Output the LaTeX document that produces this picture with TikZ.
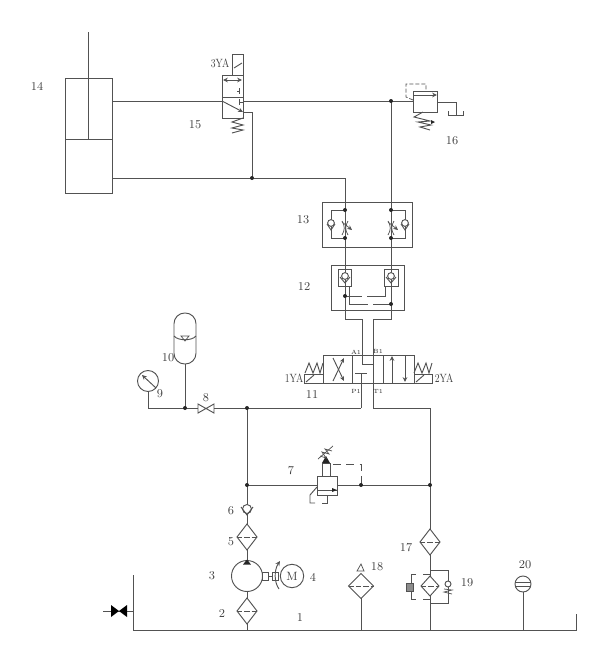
\documentclass[tikz,border=0pt]{standalone}
\usepackage{tikz}
\usetikzlibrary{arrows.meta}
\newcommand{\yalabel}[1]{\scalebox{0.78}[1]{#1}}
\tikzset{
  pipe/.style={line width=0.7pt,draw=black!68},
  thin pipe/.style={line width=0.55pt,draw=black!68},
  pilot/.style={pipe,dash pattern=on 6pt off 4pt},
  lbl/.style={inner sep=0pt,font=\fontsize{9}{9}\selectfont,text=black!75},
  tiny lbl/.style={inner sep=0pt,font=\fontsize{4.5}{5}\selectfont,text=black!85},
  dot/.style={fill=black!85},
  tip/.style={-{Stealth[length=3.6pt,width=3.4pt]}}
}
\begin{document}
\begin{tikzpicture}[x=0.75pt,y=-0.75pt]
  \useasboundingbox (0,0) rectangle (601,651);
  % cylinder 14
  \draw[pipe] (65,78) rectangle (112,193);
  \draw[pipe] (65,139) -- (112,139);
  \draw[pipe] (88,32) -- (88,139);
  \draw[pipe] (112,101) -- (222,101);
  \draw[pipe] (243,101) -- (413,101);
  \draw[pipe] (112,178) -- (345,178) -- (345,319) -- (362,319) -- (362,364) -- (373,364) -- (373,319) -- (391,319) -- (391,101);
  % valve 15
  \draw[pipe] (222,75) rectangle (243,118);
  \draw[pipe] (222,97) -- (243,97);
  \draw[pipe] (232,54) rectangle (243,75);
  \draw[pipe] (234,68) -- (242,63);
  \draw[thin pipe,{Stealth[length=3.6pt,width=3.4pt]}-{Stealth[length=3.6pt,width=3.4pt]}] (223,80) -- (242,80);
  \draw[pipe] (237,91) -- (240,91) (239,88) -- (239,94);
  \draw[pipe] (239,102) -- (243,102) (239,99) -- (239,105);
  \draw[pipe,tip] (222,101) -- (243,112);
  \draw[pipe] (243,112) -- (252,112) -- (252,178);
  \draw[pipe] (243,118) -- (232,122) -- (243,125) -- (232,128) -- (243,130) -- (232,133);
  % valve 16
  \draw[pipe] (413,91) rectangle (437,112);
  \draw[pipe,tip] (413,95) -- (437,95);
  \draw[pipe] (437,102) -- (456,102) -- (456,115);
  \draw[pipe] (448,111) -- (448,115) -- (463,115) -- (463,111);
  \draw[pipe] (423,112) -- (414,117) -- (430,121) -- (418,122) -- (431,125) -- (420,127) -- (430,130);
  \fill[dot] (431,120) -- (435,122) -- (431,124) -- cycle;
  \draw[thin pipe,dash pattern=on 3pt off 1.5pt] (413,100) -- (406,97) -- (406,84) -- (426,84) -- (426,91);
  % block 13
  \draw[pipe] (322,202) rectangle (412,247);
  \draw[pipe] (345,210) -- (331,210) -- (331,238) -- (345,238);
  \draw[pipe] (391,210) -- (405,210) -- (405,238) -- (391,238);
  \foreach \x in {331,405} {
    \draw[pipe,fill=white] (\x,223) circle [radius=3.4];
    \draw[pipe] (\x-4,224) -- (\x,230) -- (\x+4,224);
  }
  \foreach \x in {345,391} {
    \draw[thin pipe] (\x-3,221) .. controls (\x,226) and (\x,230) .. (\x-3,235);
    \draw[thin pipe] (\x+3,221) .. controls (\x,226) and (\x,230) .. (\x+3,235);
    \draw[thin pipe,tip] (\x-3,222) -- (\x+7,230);
  }
  % block 12
  \draw[pipe] (331,265) rectangle (404,310);
  \draw[pipe] (338,269) rectangle (351,286);
  \draw[pipe] (384,269) rectangle (398,286);
  \foreach \x in {345,391} {
    \draw[pipe,fill=white] (\x,276) circle [radius=3.4];
    \draw[pipe] (\x-5,277) -- (\x,283) -- (\x+5,277);
  }
  \draw[pipe] (345,296) -- (362,296) (367,296) -- (385,296) -- (385,286);
  \draw[pipe] (349,286) -- (349,304) -- (368,304) (373,304) -- (391,304);
  % main valve 11
  \draw[pipe] (323,355) rectangle (414,383);
  \draw[pipe] (352,355) -- (352,383);
  \draw[pipe] (383,355) -- (383,383);
  \draw[pipe,tip] (333,381) -- (344,358);
  \draw[pipe,tip] (333,358) -- (344,381);
  \draw[pipe,tip] (392,383) -- (392,356);
  \draw[pipe,tip] (405,355) -- (405,382);
  \draw[pipe] (355,373) -- (367,373);
  \draw[pipe] (361,373) -- (361,408);
  \draw[pipe] (373,383) -- (373,364);
  \draw[pipe] (373,383) -- (373,408) -- (430,408) -- (430,529);
  \draw[pipe] (304,374) rectangle (323,383);
  \draw[pipe] (306,382) -- (314,375);
  \draw[pipe] (305,373) -- (309,363) -- (313,373) -- (317,363) -- (320,373) -- (323,363);
  \draw[pipe] (414,374) rectangle (432,383);
  \draw[pipe] (416,382) -- (424,375);
  \draw[pipe] (414,373) -- (418,363) -- (422,373) -- (426,363) -- (429,373) -- (432,363);
  % gauge, accumulator, valve 8
  \draw[pipe] (148,381) circle [radius=10.5];
  \draw[pipe,tip] (156,388) -- (142,375);
  \draw[pipe] (148,391) -- (148,408) -- (198,408);
  \draw[pipe,rounded corners=8pt] (174,313) rectangle (196,364);
  \draw[pipe] (174,336) .. controls (178,341) and (192,341) .. (196,336);
  \draw[thin pipe] (181,336) -- (189,336) -- (185,341) -- cycle;
  \draw[pipe] (185,364) -- (185,408);
  \draw[pipe] (198,404) -- (214,413) -- (214,404) -- (198,413) -- cycle;
  \draw[pipe] (214,408) -- (361,408);
  % valve 7
  \draw[pipe] (247,408) -- (247,505);
  \draw[pipe] (247,485) -- (317,485);
  \draw[pipe] (317,476) rectangle (337,495);
  \draw[pipe] (317,490) -- (337,490);
  \fill[dot] (332,488) -- (337,490) -- (332,492) -- cycle;
  \draw[pipe] (322,463) rectangle (330,476);
  \fill[dot] (322,463) -- (330,463) -- (326,456) -- cycle;
  \draw[thin pipe] (318,459) -- (333,446);
  \draw[thin pipe] (320,456) -- (326,458) -- (322,452) -- (329,454) -- (325,449) -- (332,451);
  \draw[pilot] (333,464) -- (361,464) -- (361,485);
  \draw[pipe] (337,485) -- (430,485);
  \draw[pipe] (317,487) -- (310,495) -- (310,503) -- (315,503);
  \draw[pipe] (322,503) -- (327,503) -- (327,495);
  % pump line
  \draw[pipe,fill=white] (247,509) circle [radius=4.5];
  \draw[pipe] (241,507) -- (247,515) -- (253,507);
  \draw[pipe] (247,515) -- (247,524);
  \draw[pipe] (247,550) -- (247,560);
  \draw[pipe] (247,576) circle [radius=15.5];
  \fill[dot] (243,564.5) -- (251,564.5) -- (247,559.5) -- cycle;
  \draw[pipe] (262,572) rectangle (268,580);
  \draw[pipe] (272,572) rectangle (278,580);
  \draw[pipe] (268,576) -- (272,576);
  \draw[pipe,tip] (279,589) .. controls (274,582) and (274,570) .. (280,561);
  \draw[pipe] (292,576) circle [radius=11.7];
  \node[lbl] (motor) at (292,576) {M};
  \draw[pipe] (247,592) -- (247,598);
  \draw[pipe] (247,624) -- (247,630);
  % filters
  \foreach \x/\y/\w/\h in {247/537/10/13,247/611/10/13,430/542/10/13,430/586/9/10,361/586/12.5/12.5} {
    \draw[pipe] (\x-\w,\y) -- (\x,\y-\h) -- (\x+\w,\y) -- (\x,\y+\h) -- cycle;
    \draw[thin pipe,dash pattern=on 4pt off 1.5pt] (\x-\w,\y) -- (\x+\w,\y);
  }
  \draw[pipe] (430,555) -- (430,576);
  \draw[pipe] (430,596) -- (430,630);
  \draw[pipe] (430,570) -- (448,570) -- (448,603) -- (430,603);
  \draw[pipe,fill=white] (448,584) circle [radius=3];
  \draw[thin pipe] (444,589) -- (452,590) -- (444,592) -- (452,594);
  \draw[pipe] (416,574) -- (411,574) -- (411,599) -- (416,599);
  \draw[pipe] (423,574) -- (430,574) (423,599) -- (430,599);
  \draw[pipe,fill=black!45] (406,583) rectangle (413,591);
  \draw[pipe] (361,598) -- (361,630);
  \draw[thin pipe] (357,571) -- (364,571) -- (361,564) -- cycle;
  % tank
  \draw[pipe] (133,575) -- (133,630) -- (576,630) -- (576,614);
  \draw[pipe] (103,611) -- (133,611);
  \fill[black] (111,605) -- (127,617) -- (127,605) -- (111,617) -- cycle;
  % level gauge 20
  \draw[pipe] (523,584) circle [radius=8];
  \draw[pipe] (515,582.5) -- (531,582.5) (515,586.5) -- (531,586.5);
  \draw[pipe] (523,592) -- (523,630);
  % junctions
  \foreach \x/\y in {391/101,252/178,345/210,345/238,391/210,391/238,345/296,391/304,185/408,247/408,247/485,361/485,430/485} {
    \fill[dot] (\x,\y) circle [radius=2];
  }
  \node[lbl] (n1) at (300,617) {1};
  \node[lbl] (n2) at (222,613) {2};
  \node[lbl] (n3) at (212,576) {3};
  \node[lbl] (n4) at (313,577) {4};
  \node[lbl] (n5) at (231,542) {5};
  \node[lbl] (n6) at (231,511) {6};
  \node[lbl] (n7) at (291,471) {7};
  \node[lbl] (n8) at (206,398) {8};
  \node[lbl] (n9) at (160,394) {9};
  \node[lbl] (n10) at (168,358) {10};
  \node[lbl] (n11) at (312,394) {11};
  \node[lbl] (n12) at (304,286) {12};
  \node[lbl] (n13) at (303,220) {13};
  \node[lbl] (n14) at (37,86) {14};
  \node[lbl] (n15) at (195,125) {15};
  \node[lbl] (n16) at (452,141) {16};
  \node[lbl] (n17) at (406,548) {17};
  \node[lbl] (n18) at (377,567) {18};
  \node[lbl] (n19) at (467,583) {19};
  \node[lbl] (n20) at (525,565) {20};
  \node[lbl] (ya3) at (220,63) {\yalabel{3YA}};
  \node[lbl] (ya1) at (294,378) {\yalabel{1YA}};
  \node[lbl] (ya2) at (444,378) {\yalabel{2YA}};
  \node[tiny lbl] (portA) at (356,352) {A1};
  \node[tiny lbl] (portB) at (378,351) {B1};
  \node[tiny lbl] (portP) at (356,391) {P1};
  \node[tiny lbl] (portT) at (378,391) {T1};
\end{tikzpicture}
\end{document}
